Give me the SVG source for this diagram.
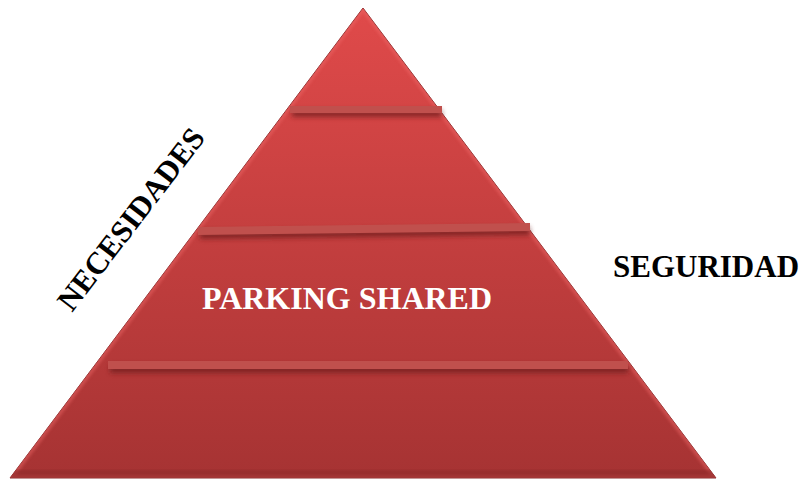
<svg xmlns="http://www.w3.org/2000/svg" width="807" height="479" viewBox="0 0 807 479">
<defs>
<linearGradient id="tri" x1="0" y1="0" x2="0" y2="1">
<stop offset="0" stop-color="#e04a4a"/>
<stop offset="1" stop-color="#a63333"/>
</linearGradient>
<filter id="blur" x="-10%" y="-100%" width="120%" height="300%">
<feGaussianBlur stdDeviation="2.5"/>
</filter>
<filter id="bev" x="-5%" y="-5%" width="110%" height="110%">
<feGaussianBlur stdDeviation="1.5"/>
</filter>
<clipPath id="triclip"><polygon points="363,8 716,478 10,478"/></clipPath>
</defs>
<style>
.lbl{font-family:"Liberation Serif","Times New Roman",serif;font-weight:bold;font-size:31px;fill:#000}
.in{font-family:"Liberation Serif","Times New Roman",serif;font-weight:bold;font-size:32px;fill:#fff}
.bar{fill:#c0504d}
.sh{fill:#6a1c1c;opacity:0.7;filter:url(#blur)}
</style>
<g id="pyramid">
<polygon points="363,8 716,478 10,478" fill="url(#tri)" stroke="#8a2a2a" stroke-width="1"/>
<g clip-path="url(#triclip)">
<polygon points="363,8 716,478 10,478" fill="none" stroke="#f06a6a" stroke-width="6" opacity="0.45" filter="url(#bev)"/>
<rect x="10" y="470" width="710" height="10" fill="#8e2c2c" opacity="0.6" filter="url(#bev)"/>
</g>
</g>
<g id="divider1">
<rect class="sh" x="292" y="110" width="150" height="7"/>
<rect class="bar" x="290" y="106" width="152" height="7"/>
</g>
<g id="divider2">
<polygon class="sh" points="200,231 530,227 530,235 200,239"/>
<polygon class="bar" points="198,227 530,223 530,231 198,235"/>
</g>
<g id="divider3">
<rect class="sh" x="110" y="365" width="518" height="8"/>
<rect class="bar" x="108" y="361" width="520" height="8"/>
</g>
<g id="label-center">
<text class="in" x="347" y="309" text-anchor="middle">PARKING SHARED</text>
</g>
<g id="label-necesidades">
<text class="lbl" transform="translate(72,313) rotate(-52.5)">NECESIDADES</text>
</g>
<g id="label-seguridad">
<text class="lbl" x="613" y="277">SEGURIDAD</text>
</g>
<g id="connectors"></g>
</svg>
